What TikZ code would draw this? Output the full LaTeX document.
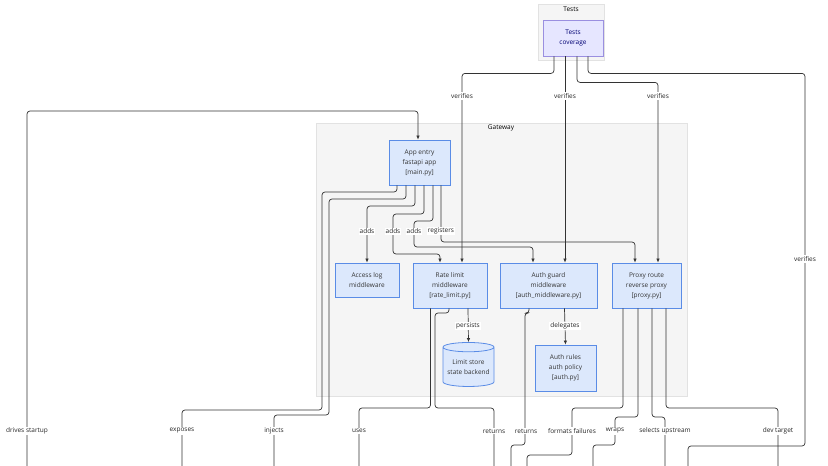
\documentclass[tikz,border=0pt]{standalone}
\usepackage{fontspec}
\setmainfont{Open Sans}
\usetikzlibrary{shapes.geometric,arrows.meta}
\definecolor{nodefill}{HTML}{DCE8FC}
\definecolor{nodeline}{HTML}{5A8CE6}
\definecolor{testfill}{HTML}{E6E6FF}
\definecolor{testline}{HTML}{9A8FE0}
\definecolor{clusfill}{HTML}{F5F5F5}
\definecolor{clusline}{HTML}{E2E2E2}
\definecolor{edgecol}{HTML}{333333}
\tikzset{
  box/.style={draw=nodeline, fill=nodefill, line width=0.8pt, align=center,
    font=\fontsize{6.5}{10}\selectfont, text=black!80, inner sep=0pt},
  edge/.style={draw=edgecol, line width=0.7pt, rounded corners=3pt},
  arr/.style={edge, -{Latex[length=4pt,width=3.5pt]}},
  lbl/.style={fill=white, inner sep=1pt, font=\fontsize{6.5}{8}\selectfont, text=black!85},
  clus/.style={draw=clusline, fill=clusfill, line width=0.5pt}
}
\begin{document}
\begin{tikzpicture}[x=1pt,y=-1pt]
\useasboundingbox (0,0) rectangle (828,466);
\fill[white] (0,0) rectangle (828,466);
% clusters
\draw[clus] (538,4) rectangle (604,60);
\node[font=\fontsize{6.5}{8}\selectfont] at (571,9) {Tests};
\draw[clus] (316,123) rectangle (687,396);
\node[font=\fontsize{6.5}{8}\selectfont] at (501,128) {Gateway};
% nodes
\node[box, draw=testline, fill=testfill, text=blue!45!black, minimum width=60pt, minimum height=36pt] (tests) at (573,38) {Tests\\coverage};
\node[box, minimum width=61pt, minimum height=45pt] (app) at (419.5,162.5) {App entry\\fastapi app\\{[main.py]}};
\node[box, minimum width=64pt, minimum height=34pt] (acc) at (367,280) {Access log\\middleware};
\node[box, minimum width=74pt, minimum height=45pt] (rate) at (450,285.5) {Rate limit\\middleware\\{[rate\_limit.py]}};
\node[box, minimum width=97pt, minimum height=45pt] (auth) at (548.5,285.5) {Auth guard\\middleware\\{[auth\_middleware.py]}};
\node[box, minimum width=69pt, minimum height=45pt] (proxy) at (646.5,285.5) {Proxy route\\reverse proxy\\{[proxy.py]}};
\node[box, cylinder, shape border rotate=90, aspect=0.22, minimum width=51pt, minimum height=44pt] (store) at (468.5,367) {Limit store\\state backend};
\node[box, minimum width=61pt, minimum height=46pt] (rules) at (565.5,368) {Auth rules\\auth policy\\{[auth.py]}};
% free ends at the bottom
\coordinate (bStart) at (27,466);
\coordinate (bExp) at (182,466);
\coordinate (bInj) at (274,466);
\coordinate (bUses) at (359,466);
\coordinate (bRetA) at (494,466);
\coordinate (bRetB) at (511,466);
\coordinate (bFmt) at (527,466);
\coordinate (bWrap) at (593,466);
\coordinate (bSel) at (665,466);
\coordinate (bVer) at (688,466);
\coordinate (bDev) at (778,466);
% tests
\draw[arr] ([xshift=-19]tests.south) -- ++(0,17) -| ([xshift=12]rate.north);
\draw[arr] ([xshift=-8]tests.south) -- ([xshift=16.5]auth.north);
\draw[arr] ([xshift=4]tests.south) -- ++(0,26) -| ([xshift=11.5]proxy.north);
\draw[edge] ([xshift=15]tests.south) -- ++(0,17) -| (805,446) -| (bVer);
% app entry
\draw[arr] (bStart) -- (27,111) -| ([xshift=-1.5]app.north);
\draw[edge] ([xshift=-22.5]app.south) |- (322,192) -- (322,410) -| (bExp);
\draw[edge] ([xshift=-13.5]app.south) |- (329,199) -- (329,415) -| (bInj);
\draw[arr] ([xshift=-4.5]app.south) |- (367,206) -- (acc.north);
\draw[arr] ([xshift=4.5]app.south) |- (393,214) |- (440,254) -- ([xshift=-10]rate.north);
\draw[arr] ([xshift=13.5]app.south) |- (414,221) |- (533,247) -- ([xshift=-15.5]auth.north);
\draw[arr] ([xshift=21.5]app.south) |- (635,242) -- ([xshift=-11.5]proxy.north);
% rate limit
\draw[edge] ([xshift=-19.5]rate.south) |- (359,408) -- (bUses);
\draw[edge] ([xshift=-1]rate.south) |- (435,313) |- (494,408) -- (bRetA);
\draw[arr] ([xshift=18]rate.south) -- (store.north);
% auth guard
\draw[edge] ([xshift=-19.5]auth.south) |- (525,313) |- (511,445) -- (bRetB);
\draw[arr] ([xshift=16]auth.south) -- (rules.north);
% proxy
\draw[edge] ([xshift=-23.5]proxy.south) |- (572,408) |- (527,455) -- (bFmt);
\draw[edge] ([xshift=-8.5]proxy.south) |- (615,417) |- (593,445) -- (bWrap);
\draw[edge] ([xshift=5.5]proxy.south) |- (665,417) -- (bSel);
\draw[edge] ([xshift=19.5]proxy.south) |- (778,408) -- (bDev);
% labels
\node[lbl] at (462,96) {verifies};
\node[lbl] at (565,96) {verifies};
\node[lbl] at (658,96) {verifies};
\node[lbl] at (805,259) {verifies};
\node[lbl] at (367,231) {adds};
\node[lbl] at (393,231) {adds};
\node[lbl] at (414,231) {adds};
\node[lbl] at (441,231) {registers};
\node[lbl] at (468,326) {persists};
\node[lbl] at (565,326) {delegates};
\node[lbl] at (27,431) {drives startup};
\node[lbl] at (182,431) {exposes};
\node[lbl] at (274,431) {injects};
\node[lbl] at (359,431) {uses};
\node[lbl] at (494,431) {returns};
\node[lbl] at (526,431) {returns};
\node[lbl] at (572,431) {formats failures};
\node[lbl] at (615,431) {wraps};
\node[lbl] at (665,431) {selects upstream};
\node[lbl] at (778,431) {dev target};
\end{tikzpicture}
\end{document}
